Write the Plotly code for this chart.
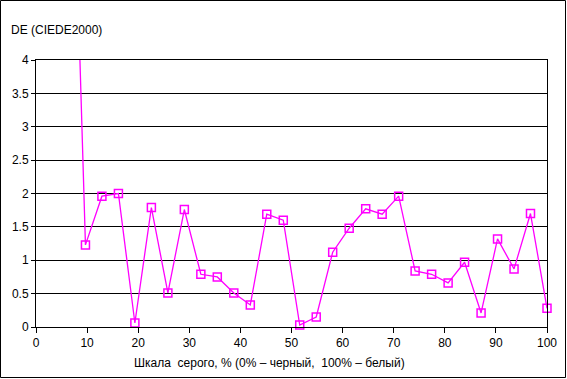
import plotly.graph_objects as go

# Data
x_gray = [round(k * 100 / 31, 2) for k in range(0, 32)]
de_values = [15.0, 12.0, 9.5, 1.23, 1.96, 2.0, 0.06, 1.79, 0.51, 1.76, 0.79,
             0.75, 0.51, 0.33, 1.69, 1.60, 0.03, 0.15, 1.12, 1.48, 1.77, 1.69,
             1.96, 0.84, 0.79, 0.66, 0.97, 0.21, 1.32, 0.87, 1.70, 0.28]
x_ticks = list(range(0, 101, 10))
y_ticks = [0, 0.5, 1, 1.5, 2, 2.5, 3, 3.5, 4]

W, H = 567, 379
L, R, T, B = 36, 547, 60, 327

fig = go.Figure()
fig.add_trace(go.Scatter(
    x=x_gray, y=de_values, mode="lines+markers",
    line=dict(color="#FF00FF", width=1.3),
    marker=dict(symbol="square-open", size=8, color="#FF00FF",
                line=dict(width=1.5, color="#FF00FF")),
    cliponaxis=False, showlegend=False,
))

font = dict(family="Liberation Sans, Arial, sans-serif", size=12, color="black")

fig.update_layout(
    width=W, height=H,
    margin=dict(l=L, r=W - R, t=T, b=H - B, autoexpand=False),
    paper_bgcolor="white", plot_bgcolor="white",
    font=font,
    xaxis=dict(range=[0, 100], tickvals=x_ticks, showgrid=False, zeroline=False,
               showline=True, linecolor="black", linewidth=1, mirror=True,
               ticks="outside", ticklen=5, tickcolor="black", tickfont=font,
               automargin=False),
    yaxis=dict(range=[0, 4], tickvals=y_ticks, showgrid=True, gridcolor="black",
               gridwidth=1, zeroline=False, showline=True, linecolor="black",
               linewidth=1, mirror=True, ticks="outside", ticklen=4,
               tickcolor="black", tickfont=font, automargin=False),
)

pw, ph = R - L, B - T
def px_x(p):
    return (p - L) / pw
def px_y(p):
    return (B - p) / ph

fig.add_shape(type="rect", xref="paper", yref="paper",
              x0=px_x(0.5), x1=px_x(565.5), y0=px_y(377.5), y1=px_y(0.5),
              line=dict(color="black", width=1), fillcolor="rgba(0,0,0,0)")

fig.add_annotation(text="DE (CIEDE2000)", xref="paper", yref="paper",
                   x=px_x(9), y=px_y(30), xanchor="left", yanchor="middle",
                   showarrow=False, font=font)
fig.add_annotation(text="Шкала  серого, % (0% – черный,  100% – белый)",
                   xref="paper", yref="paper",
                   x=px_x(269), y=px_y(363), xanchor="center", yanchor="middle",
                   showarrow=False, font=font)

fig.write_html("out.html",
               config={"displayModeBar": False},
               post_script="document.body.style.margin='0';document.body.style.overflow='hidden';")
